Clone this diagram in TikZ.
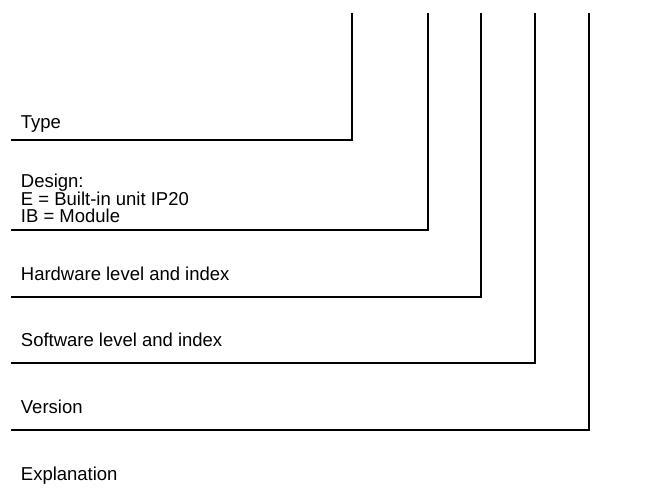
\documentclass[tikz,border=0pt]{standalone}
\usepackage{fontspec}
\setmainfont{Liberation Sans}[FakeStretch=0.99]
\usetikzlibrary{positioning}

\begin{document}
\begin{tikzpicture}[x=0.75pt,y=-0.75pt,line width=1.4pt,
  font=\fontsize{14}{17}\selectfont,
  lbl/.style={anchor=base west,inner sep=0pt,text height=10pt,text depth=2.5pt}]
\useasboundingbox (0,0) rectangle (660,491);
% tops of the code lines
\coordinate (t1) at (352,13);
\coordinate (t2) at (428,13);
\coordinate (t3) at (481,13);
\coordinate (t4) at (535,13);
\coordinate (t5) at (589,13);
% left ends
\coordinate (e1) at (11,140);
\coordinate (e2) at (11,230);
\coordinate (e3) at (11,297);
\coordinate (e4) at (11,363);
\coordinate (e5) at (11,430);
\draw (t1) |- (e1);
\draw (t2) |- (e2);
\draw (t3) |- (e3);
\draw (t4) |- (e4);
\draw (t5) |- (e5);
% labels
\node[lbl] (type) at (20,129) {Type};
\node[lbl] (design) at (20,188) {Design:};
\node[lbl] (dE) at (20,205.5) {E = Built-in unit IP20};
\node[lbl] (dIB) at (20,223) {IB = Module};
\node[lbl] (hw) at (20,281) {Hardware level and index};
\node[lbl] (sw) at (20,347) {Software level and index};
\node[lbl] (ver) at (20,413) {Version};
\node[lbl] (expl) at (20,480) {Explanation};
\end{tikzpicture}
\end{document}
